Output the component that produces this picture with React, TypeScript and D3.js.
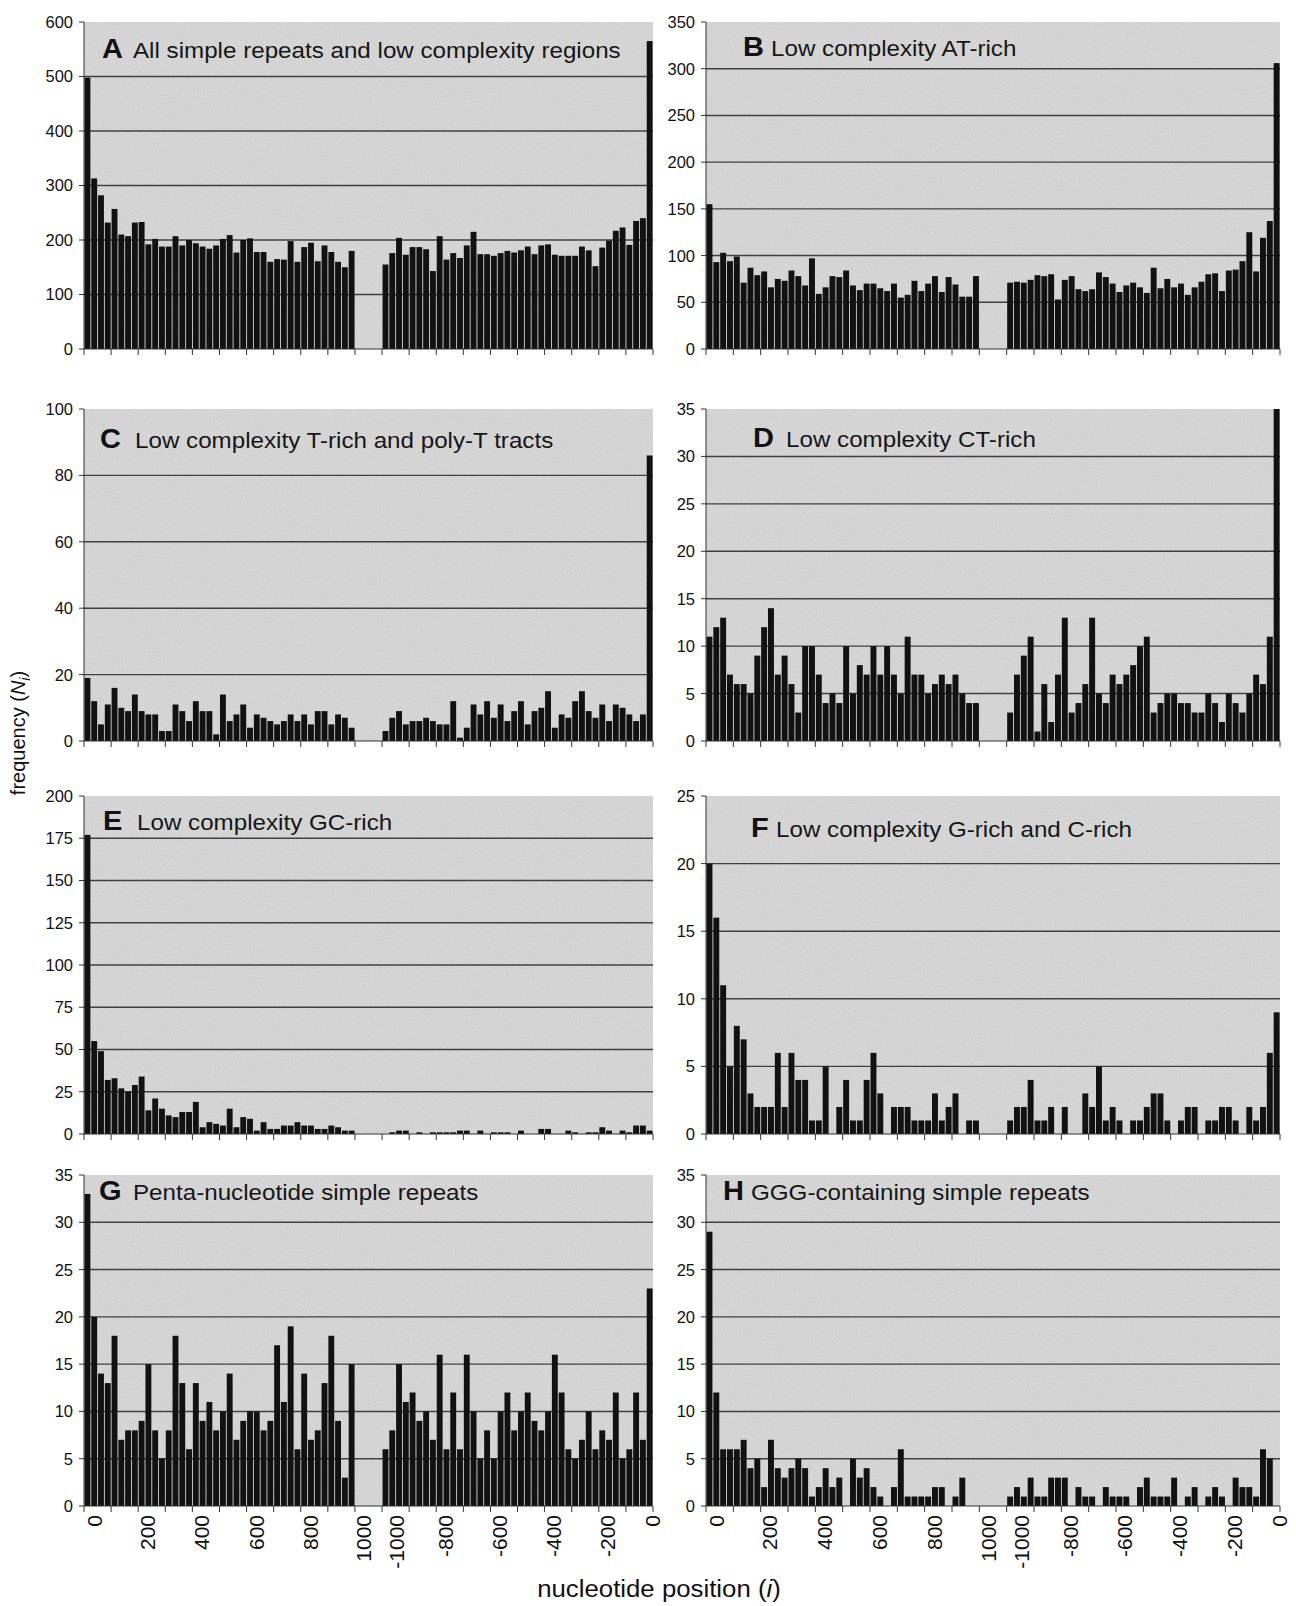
import React, { useRef, useEffect } from 'react';
import * as d3 from 'd3';

// bins of 25 nt: first 1000 nt (0 .. 975) and last 1000 nt (-975 .. 0)
const startBins = d3.range(0, 1000, 25);
const endBins = d3.range(-975, 25, 25);

const seriesAStart = [498,313,282,232,257,210,207,232,233,192,202,188,188,207,190,200,194,188,184,190,202,209,177,200,203,178,178,160,165,164,198,160,187,195,161,190,178,160,150,180];
const seriesAEnd = [155,176,204,173,187,187,183,143,207,164,176,167,190,215,174,174,171,176,180,177,181,188,174,190,192,173,171,171,171,188,181,152,186,199,217,223,191,235,240,565];

const seriesBStart = [155,93,103,94,99,71,87,79,83,66,75,73,84,78,68,97,59,66,78,77,84,68,63,70,70,65,62,70,55,58,73,62,70,78,61,77,69,56,56,78];
const seriesBEnd = [71,72,71,74,79,78,80,53,74,78,64,62,64,82,77,70,61,68,71,66,60,87,65,75,66,70,58,66,72,80,81,62,84,85,94,125,83,119,137,306];

const seriesCStart = [19,12,5,11,16,10,9,14,9,8,8,3,3,11,9,6,12,9,9,2,14,6,8,11,4,8,7,6,5,6,8,6,8,5,9,9,5,8,7,4];
const seriesCEnd = [3,7,9,5,6,6,7,6,5,5,12,1,4,11,8,12,7,11,6,9,12,5,9,10,15,4,8,7,12,15,9,7,11,6,11,10,8,6,8,86];

const seriesDStart = [11,12,13,7,6,6,5,9,12,14,7,9,6,3,10,10,7,4,5,4,10,5,8,7,10,7,10,7,5,11,7,7,5,6,7,6,7,5,4,4];
const seriesDEnd = [3,7,9,11,1,6,2,7,13,3,4,6,13,5,4,7,6,7,8,10,11,3,4,5,5,4,4,3,3,5,4,2,5,4,3,5,7,6,11,36];

const seriesEStart = [177,55,49,32,33,27,25,29,34,14,21,15,11,10,13,13,19,4,7,6,5,15,4,10,9,2,7,3,3,5,5,7,5,5,3,3,5,4,2,2];
const seriesEEnd = [0,1,2,2,0,1,0,1,1,1,1,2,2,0,2,0,1,1,1,0,2,0,0,3,3,0,0,2,1,0,1,1,4,2,0,2,1,5,5,2];

const seriesFStart = [20,16,11,5,8,7,3,2,2,2,6,2,6,4,4,1,1,5,0,2,4,1,1,4,6,3,0,2,2,2,1,1,1,3,1,2,3,0,1,1];
const seriesFEnd = [1,2,2,4,1,1,2,0,2,0,0,3,2,5,1,2,1,0,1,1,2,3,3,1,0,1,2,2,0,1,1,2,2,1,0,2,1,2,6,9];

const seriesGStart = [33,20,14,13,18,7,8,8,9,15,8,5,8,18,13,6,13,9,11,8,10,14,7,9,10,10,8,9,17,11,19,6,14,7,8,13,18,9,3,15];
const seriesGEnd = [6,8,15,11,12,9,10,7,16,6,12,6,16,10,5,8,5,10,12,8,10,12,9,8,10,16,12,6,5,7,10,6,8,7,12,5,6,12,7,23];

const seriesHStart = [29,12,6,6,6,7,4,5,2,7,4,3,4,5,4,1,2,4,2,3,0,5,3,4,2,1,0,2,6,1,1,1,1,2,2,0,1,3,0,0];
const seriesHEnd = [1,2,1,3,1,1,3,3,3,0,2,1,1,0,2,1,1,1,0,2,3,1,1,1,3,0,1,2,0,1,2,1,0,3,2,2,1,6,5,0];

const panelLetters = ['A', 'B', 'C', 'D', 'E', 'F', 'G', 'H'];
const panelTitles = [
  'All simple repeats and low complexity regions',
  'Low complexity AT-rich',
  'Low complexity T-rich and poly-T tracts',
  'Low complexity CT-rich',
  'Low complexity GC-rich',
  'Low complexity G-rich and C-rich',
  'Penta-nucleotide simple repeats',
  'GGG-containing simple repeats',
];
const yMaxes = [600, 350, 100, 35, 200, 25, 35, 35];
const ySteps = [100, 50, 20, 5, 25, 5, 5, 5];
const startSeries = [seriesAStart, seriesBStart, seriesCStart, seriesDStart, seriesEStart, seriesFStart, seriesGStart, seriesHStart];
const endSeries = [seriesAEnd, seriesBEnd, seriesCEnd, seriesDEnd, seriesEEnd, seriesFEnd, seriesGEnd, seriesHEnd];

const xTickLabels = ['0', '200', '400', '600', '800', '1000', '-1000', '-800', '-600', '-400', '-200', '0'];
// label centres, in bar slots from the left end of the axis
const xTickLabelSlots = [1.6, 9.3, 17.3, 25.4, 33.4, 41.3, 46.1, 53.3, 61.3, 69.3, 77.3, 83.9];

// layout
const cols = [ { x0: 84, x1: 653 }, { x0: 706, x1: 1280 } ];
const rows = [ { top: 22, bottom: 349 }, { top: 409, bottom: 741 }, { top: 796, bottom: 1134 }, { top: 1175, bottom: 1506 } ];
const titleOffsets = [
  { dx: 18, dy: 36, gap: 31 },
  { dx: 37, dy: 34, gap: 28 },
  { dx: 16, dy: 39, gap: 35 },
  { dx: 47, dy: 38, gap: 33 },
  { dx: 19, dy: 34, gap: 34 },
  { dx: 45, dy: 41, gap: 25 },
  { dx: 15, dy: 25, gap: 34 },
  { dx: 17, dy: 25, gap: 28 },
];

const FONT = 'Liberation Sans, Arial, Helvetica, sans-serif';
const STRETCH = 1.075;

const App: React.FC = () => {
  const svgRef = useRef<SVGSVGElement>(null);

  useEffect(() => {
    const svg = d3.select(svgRef.current);
    svg.selectAll('*').remove();

    const defs = svg.append('defs');
    const grain = defs.append('filter').attr('id', 'grain').attr('x', 0).attr('y', 0).attr('width', '100%').attr('height', '100%');
    grain.append('feTurbulence').attr('type', 'fractalNoise').attr('baseFrequency', 0.85).attr('numOctaves', 2).attr('seed', 4);
    grain.append('feColorMatrix').attr('type', 'saturate').attr('values', 0);

    // slot keys: 40 start bins, 4 empty slots, 40 end bins
    const slots = [
      ...startBins.map((b) => `s${b}`),
      'gap1', 'gap2', 'gap3', 'gap4',
      ...endBins.map((b) => `e${b}`),
    ];

    panelLetters.forEach((letter, i) => {
      const col = cols[i % 2];
      const row = rows[Math.floor(i / 2)];
      const yMax = yMaxes[i];

      const x = d3.scaleBand<string>().domain(slots).range([col.x0, col.x1]).padding(0);
      const y = d3.scaleLinear().domain([0, yMax]).range([row.bottom, row.top]);
      const g = svg.append('g');

      g.append('rect')
        .attr('x', col.x0).attr('y', row.top)
        .attr('width', col.x1 - col.x0).attr('height', row.bottom - row.top)
        .attr('fill', '#d6d6d6');
      g.append('rect')
        .attr('x', col.x0).attr('y', row.top)
        .attr('width', col.x1 - col.x0).attr('height', row.bottom - row.top)
        .attr('filter', 'url(#grain)')
        .attr('opacity', 0.17);

      const yTicks = d3.range(0, yMax + ySteps[i] / 2, ySteps[i]);

      g.selectAll('line.grid')
        .data(yTicks.filter((t) => t > 0 && t < yMax))
        .enter()
        .append('line')
        .attr('x1', col.x0).attr('x2', col.x1)
        .attr('y1', (d) => y(d)).attr('y2', (d) => y(d))
        .attr('stroke', '#404040').attr('stroke-width', 1.4);

      const bars = [
        ...startSeries[i].map((v, k) => ({ key: `s${startBins[k]}`, v })),
        ...endSeries[i].map((v, k) => ({ key: `e${endBins[k]}`, v })),
      ];
      const bw = x.bandwidth();
      g.selectAll('rect.bar')
        .data(bars.filter((d) => d.v > 0))
        .enter()
        .append('rect')
        .attr('x', (d) => (x(d.key) as number) + 0.5)
        .attr('width', bw - 0.9)
        .attr('y', (d) => y(Math.min(d.v, yMax)))
        .attr('height', (d) => row.bottom - y(Math.min(d.v, yMax)))
        .attr('fill', '#121212');

      // y axis
      g.append('line')
        .attr('x1', col.x0).attr('x2', col.x0)
        .attr('y1', row.top).attr('y2', row.bottom)
        .attr('stroke', '#333').attr('stroke-width', 1);
      g.selectAll('line.ytick')
        .data(yTicks)
        .enter()
        .append('line')
        .attr('x1', col.x0 - 5).attr('x2', col.x0)
        .attr('y1', (d) => y(d)).attr('y2', (d) => y(d))
        .attr('stroke', '#333').attr('stroke-width', 1);
      g.selectAll('text.ylab')
        .data(yTicks)
        .enter()
        .append('text')
        .attr('x', col.x0 - 11)
        .attr('y', (d) => y(d))
        .attr('dy', '0.36em')
        .attr('text-anchor', 'end')
        .attr('font-family', FONT)
        .attr('font-size', 16.5)
        .attr('fill', '#111')
        .text((d) => d);

      // x axis
      g.append('line')
        .attr('x1', col.x0).attr('x2', col.x1)
        .attr('y1', row.bottom).attr('y2', row.bottom)
        .attr('stroke', '#333').attr('stroke-width', 1.2);
      const step = x.step();
      g.selectAll('line.xtick')
        .data(d3.range(0, slots.length + 1, 4))
        .enter()
        .append('line')
        .attr('x1', (d) => col.x0 + d * step).attr('x2', (d) => col.x0 + d * step)
        .attr('y1', row.bottom).attr('y2', row.bottom + 6)
        .attr('stroke', '#333').attr('stroke-width', 1);

      if (Math.floor(i / 2) === rows.length - 1) {
        g.selectAll('text.xlab')
          .data(xTickLabels)
          .enter()
          .append('text')
          .attr('transform', (d, k) => `translate(${col.x0 + xTickLabelSlots[k] * step},${row.bottom + 9}) rotate(-90)`)
          .attr('dy', '0.36em')
          .attr('text-anchor', 'end')
          .attr('font-family', FONT)
          .attr('font-size', 21)
          .attr('fill', '#111')
          .text((d) => d);
      }

      // panel title
      const t = titleOffsets[i];
      g.append('text')
        .attr('transform', `translate(${col.x0 + t.dx},${row.top + t.dy}) scale(${STRETCH},1)`)
        .attr('font-family', FONT)
        .attr('font-weight', 'bold')
        .attr('font-size', 27)
        .attr('fill', '#111')
        .text(letter);
      g.append('text')
        .attr('transform', `translate(${col.x0 + t.dx + t.gap},${row.top + t.dy}) scale(${STRETCH},1)`)
        .attr('font-family', FONT)
        .attr('font-size', 22.5)
        .attr('fill', '#161616')
        .text(panelTitles[i]);
    });

    // axis titles
    const yTitle = svg.append('text')
      .attr('transform', 'translate(25,733) rotate(-90)')
      .attr('text-anchor', 'middle')
      .attr('font-family', FONT)
      .attr('font-size', 20)
      .attr('fill', '#111');
    yTitle.append('tspan').text('frequency (');
    yTitle.append('tspan').attr('font-style', 'italic').text('N');
    yTitle.append('tspan').attr('font-style', 'italic').attr('font-size', 14).attr('dy', 5).text('i');
    yTitle.append('tspan').attr('dy', -5).text(')');

    const xTitle = svg.append('text')
      .attr('transform', `translate(659,1597) scale(${STRETCH},1)`)
      .attr('text-anchor', 'middle')
      .attr('font-family', FONT)
      .attr('font-size', 24)
      .attr('fill', '#111');
    xTitle.append('tspan').text('nucleotide position (');
    xTitle.append('tspan').attr('font-style', 'italic').text('i');
    xTitle.append('tspan').text(')');
  }, []);

  return (
    <svg
      ref={svgRef}
      width={1296}
      height={1606}
      style={{ position: 'absolute', left: 0, top: 0, background: '#fff' }}
      aria-label="Frequency of simple repeats by nucleotide position"
    />
  );
};

export default App;
